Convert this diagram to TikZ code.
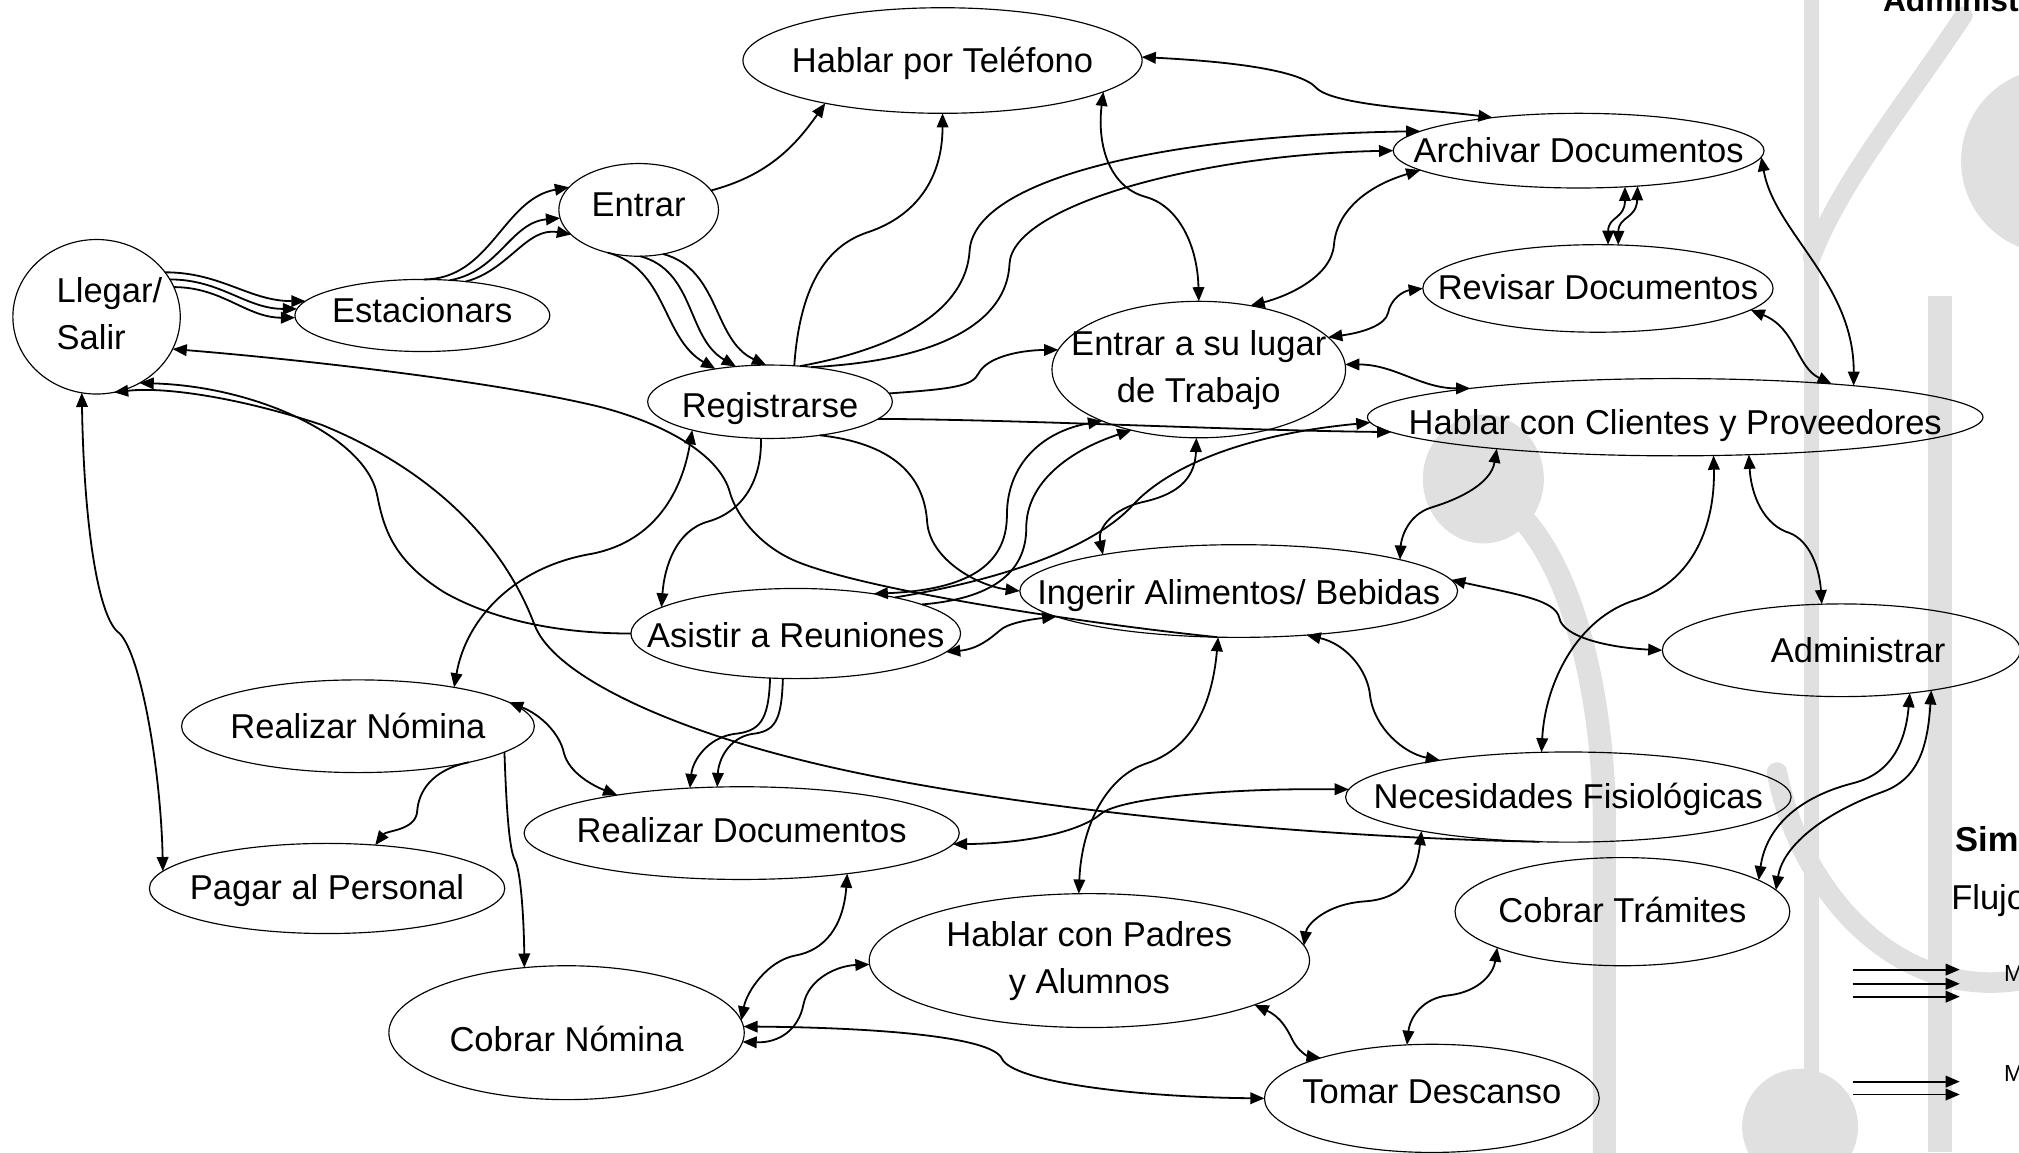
\documentclass[tikz,border=0pt]{standalone}
\usepackage{fontspec}
\setmainfont{Liberation Sans}
\usetikzlibrary{shapes.geometric,arrows.meta}

% text set on its cap height, so that descenders do not move it
\newcommand{\lbl}[2][0pt]{\makebox[0pt]{\raisebox{#1}[\fontcharht\font`A][0pt]{#2}}}
\newcommand{\lbltwo}[3][0pt]{\makebox[0pt]{\raisebox{#1}{\begin{tabular}{@{}c@{}}#2\\#3\end{tabular}}}}

\begin{document}
\begin{tikzpicture}[x=0.5pt, y=-0.5pt,
    >={Triangle[length=5.5pt,width=4.5pt]},
    act/.style={ellipse, draw, line width=0.45pt, inner sep=0pt, outer sep=0pt, font=\fontsize{13.4}{18}\selectfont},
    flow/.style={->, line width=0.7pt},
    both/.style={<->, line width=0.7pt},
    wm/.style={fill=black!12, draw=none},
    wmline/.style={draw=black!12, line cap=round}
]
    \useasboundingbox (0,0) rectangle (1568,895);
    \clip (0,0) rectangle (1568,895);

    % watermark
    \fill[wm] (1401,0) rectangle (1413,895);
    \fill[wm] (1497,230) rectangle (1516,895);
    \fill[wm] (1595,125) circle[radius=72];
    \fill[wm] (1398,875) circle[radius=45];
    \fill[wm] (1152,372) ellipse[x radius=47, y radius=50];
    \draw[wmline, line width=9pt] (1180,400) .. controls (1228,450) and (1246,560) .. (1246,640) -- (1246,900);
    \draw[wmline, line width=7pt] (1525,12) .. controls (1480,80) and (1430,140) .. (1407,200);
    \draw[wmline, line width=8pt] (1380,600) .. controls (1400,700) and (1480,780) .. (1575,760);

    % activities
    \node[act, minimum width=65pt, minimum height=60pt] (llegar) at (75,246) {\makebox[0pt]{\hspace{10pt}\raisebox{0.5pt}{\begin{tabular}{@{}l@{}}Llegar/\\Salir\end{tabular}}}};
    \node[act, minimum width=99pt, minimum height=28pt] (estac) at (328,245) {\lbl[2pt]{Estacionars}};
    \node[act, minimum width=62pt, minimum height=36pt] (entrar) at (496,163) {\lbl[2pt]{Entrar}};
    \node[act, minimum width=95pt, minimum height=28.5pt] (regis) at (598,312) {\lbl[-1.5pt]{Registrarse}};
    \node[act, minimum width=155pt, minimum height=41pt] (telef) at (732,47) {\lbl{Hablar por Teléfono}};
    \node[act, minimum width=144pt, minimum height=29pt] (archiv) at (1226,117) {\lbl{Archivar Documentos}};
    \node[act, minimum width=136pt, minimum height=34pt] (revisar) at (1241,224) {\lbl[0.5pt]{Revisar Documentos}};
    \node[act, minimum width=114pt, minimum height=53pt] (lugar) at (931,287) {\lbltwo[-2.5pt]{Entrar a su lugar}{de Trabajo}};
    \node[act, minimum width=239pt, minimum height=30pt] (clientes) at (1301,324) {\lbl[-2pt]{Hablar con Clientes y Proveedores}};
    \node[act, minimum width=170pt, minimum height=36pt] (ingerir) at (962,459) {\lbl[-0.5pt]{Ingerir Alimentos/ Bebidas}};
    \node[act, minimum width=128pt, minimum height=35pt] (reuniones) at (618,492) {\lbl[-1pt]{Asistir a Reuniones}};
    \node[act, minimum width=139pt, minimum height=36pt] (admin) at (1430,505) {\lbl{\hspace{13pt}Administrar}};
    \node[act, minimum width=173pt, minimum height=35pt] (necesid) at (1218,619) {\lbl{Necesidades Fisiológicas}};
    \node[act, minimum width=137pt, minimum height=36pt] (rnomina) at (278,564) {\lbl{Realizar Nómina}};
    \node[act, minimum width=169pt, minimum height=36pt] (rdocs) at (576,647) {\lbl[1pt]{Realizar Documentos}};
    \node[act, minimum width=138pt, minimum height=35pt] (pagar) at (254,690) {\lbl[0.5pt]{Pagar al Personal}};
    \node[act, minimum width=171pt, minimum height=52pt] (padres) at (846,746) {\lbltwo[-2.5pt]{Hablar con Padres}{y Alumnos}};
    \node[act, minimum width=138pt, minimum height=52pt] (cnomina) at (440,802) {\lbl[-2.5pt]{Cobrar Nómina}};
    \node[act, minimum width=130pt, minimum height=42pt] (tramites) at (1260,708) {\lbl[0.5pt]{Cobrar Trámites}};
    \node[act, minimum width=130pt, minimum height=42pt] (descanso) at (1112,853) {\lbl[2.5pt]{Tomar Descanso}};

    % titles and legend
    \node[anchor=base west, inner sep=0pt, font=\bfseries\fontsize{12.3}{14}\selectfont] (titulo) at (1462,9) {Administ};
    \node[anchor=base west, inner sep=0pt, font=\bfseries\fontsize{13.4}{16}\selectfont] (simb) at (1518,661) {Sim};
    \node[anchor=base west, inner sep=0pt, font=\fontsize{13.4}{16}\selectfont] (flujo) at (1515,706) {Flujo};
    \node[anchor=base west, inner sep=0pt, font=\fontsize{9}{10}\selectfont] (mtres) at (1556,762) {M};
    \node[anchor=base west, inner sep=0pt, font=\fontsize{9}{10}\selectfont] (mdos) at (1556,840) {M};
    \foreach \y [count=\i] in {753,764,774} {
        \coordinate (ta\i) at (1439,\y);
        \coordinate (tb\i) at (1522,\y);
        \draw[flow] (ta\i) -- (tb\i);
    }
    \foreach \y [count=\i] in {840,850} {
        \coordinate (da\i) at (1439,\y);
        \coordinate (db\i) at (1522,\y);
        \draw[flow] (da\i) -- (db\i);
    }

    % arrival
    \draw[flow] (llegar.33) to[out=0,in=180] (estac.173);
    \draw[flow] (llegar.27) to[out=0,in=180] (estac.177);
    \draw[flow] (llegar.21) to[out=0,in=180] (estac.181);
    \draw[flow] (estac.88) to[out=0,in=190] (entrar.162);
    \draw[flow] (estac.52) to[out=10,in=185] (entrar.186);
    \draw[flow] (estac.38) to[out=15,in=170] (entrar.200);
    \draw[flow] (entrar.234) to[out=-15,in=150] (regis.149);
    \draw[flow] (entrar.272) to[out=-15,in=150] (regis.134);
    \draw[flow] (entrar.299) to[out=-15,in=155] (regis.96);
    \draw[flow] (entrar.15) to[out=15,in=235] (telef.200);

    % from Registrarse
    \draw[flow] (regis.56) .. controls (622,210) and (650,188) .. (675,180) .. controls (710,168) and (732,140) .. (telef.270);
    \draw[flow] (regis.50) .. controls (700,270) and (750,240) .. (753,195) .. controls (756,140) and (900,105) .. (archiv.173);
    \draw[flow] (regis.40) .. controls (730,280) and (782,250) .. (784,205) .. controls (786,160) and (930,120) .. (archiv.180);
    \draw[flow] (regis.4) .. controls (740,302) and (755,300) .. (760,290) .. controls (766,278) and (790,272) .. (lugar.172);
    \draw[flow] (regis.351) .. controls (800,326) and (950,334) .. (clientes.183);
    \draw[flow] (regis.326) .. controls (700,345) and (718,375) .. (720,405) .. controls (722,435) and (760,455) .. (ingerir.180);
    \draw[flow] (regis.256) .. controls (592,375) and (575,398) .. (550,405) .. controls (525,412) and (516,440) .. (reuniones.169);
    \draw[both] (regis.200) .. controls (530,380) and (510,420) .. (460,430) .. controls (400,440) and (362,480) .. (rnomina.22);

    % back to Llegar/Salir
    \draw[flow] (ingerir.245) .. controls (850,485) and (680,460) .. (621,437) .. controls (590,425) and (572,400) .. (567,383) .. controls (560,355) and (520,330) .. (466,316) .. controls (380,295) and (220,278) .. (llegar.337);
    \draw[flow] (reuniones.180) .. controls (430,492) and (380,480) .. (345,460) .. controls (305,435) and (298,410) .. (293,385) .. controls (285,340) and (200,300) .. (llegar.303);
    \draw[flow] (necesid.237) .. controls (1000,650) and (760,625) .. (621,590) .. controls (520,565) and (430,525) .. (415,485) .. controls (400,445) and (360,375) .. (250,330) .. controls (190,310) and (130,300) .. (llegar.283);
    \draw[both] (llegar.259) .. controls (65,400) and (75,480) .. (93,492) .. controls (110,510) and (125,600) .. (pagar.174);

    % Asistir a Reuniones
    \draw[both] (reuniones.353) .. controls (760,504) and (770,495) .. (776,490) .. controls (782,484) and (800,481) .. (ingerir.188);
    \draw[both] (reuniones.27) .. controls (750,458) and (782,440) .. (782,400) .. controls (782,360) and (810,335) .. (lugar.208);
    \draw[flow] (reuniones.13) .. controls (770,465) and (797,445) .. (797,410) .. controls (797,375) and (830,350) .. (lugar.222);
    \draw[flow] (reuniones.20) .. controls (780,450) and (850,425) .. (880,392) .. controls (905,365) and (960,338) .. (clientes.181);
    \draw[flow] (reuniones.240) .. controls (597,560) and (590,568) .. (570,570) .. controls (550,573) and (538,590) .. (rdocs.139);
    \draw[flow] (reuniones.254) .. controls (607,560) and (602,568) .. (584,570) .. controls (566,573) and (558,590) .. (rdocs.118);

    % Entrar a su lugar de Trabajo
    \draw[both] (lugar.268) .. controls (928,375) and (910,385) .. (887,390) .. controls (865,395) and (852,410) .. (ingerir.165);
    \draw[both] (lugar.2) to[out=0,in=180] (clientes.172);
    \draw[both] (revisar.180) .. controls (1090,226) and (1080,232) .. (1078,243) .. controls (1076,252) and (1060,258) .. (lugar.14);
    \draw[both] (archiv.187) .. controls (1060,145) and (1038,165) .. (1036,190) .. controls (1034,215) and (1000,230) .. (lugar.51);
    \draw[both] (telef.349) .. controls (852,110) and (860,145) .. (890,153) .. controls (915,160) and (930,190) .. (lugar.90);

    % documents
    \draw[both] (telef.1) .. controls (960,48) and (1010,55) .. (1022,68) .. controls (1035,82) and (1110,85) .. (archiv.159);
    \draw[both] (archiv.322) .. controls (1262,170) and (1249,168) .. (revisar.77);
    \draw[both] (archiv.329) .. controls (1271,170) and (1257,168) .. (revisar.65);
    \draw[both] (archiv.358) .. controls (1378,180) and (1440,220) .. (clientes.10);
    \draw[both] (revisar.352) .. controls (1395,255) and (1395,285) .. (clientes.12);

    % Ingerir and Hablar con Clientes
    \draw[both] (ingerir.11) .. controls (1088,420) and (1092,400) .. (1112,394) .. controls (1135,387) and (1158,375) .. (clientes.190);
    \draw[both] (ingerir.3) .. controls (1180,462) and (1208,466) .. (1211,480) .. controls (1214,495) and (1250,503) .. (admin.180);
    \draw[both] (ingerir.327) .. controls (1045,500) and (1062,520) .. (1064,540) .. controls (1067,565) and (1090,585) .. (necesid.164);
    \draw[both] (ingerir.246) .. controls (942,540) and (930,580) .. (890,593) .. controls (860,603) and (840,640) .. (padres.99);
    \draw[both] (clientes.315) .. controls (1332,400) and (1320,450) .. (1270,466) .. controls (1225,480) and (1200,530) .. (necesid.121);
    \draw[both] (clientes.333) .. controls (1360,385) and (1370,408) .. (1390,414) .. controls (1405,420) and (1413,440) .. (admin.113);
    \draw[both] (admin.328) .. controls (1480,575) and (1470,600) .. (1440,608) .. controls (1400,618) and (1372,640) .. (tramites.13);
    \draw[both] (admin.336) .. controls (1497,580) and (1490,605) .. (1462,615) .. controls (1420,630) and (1385,655) .. (tramites.8);

    % payroll and paperwork
    \draw[flow] (rnomina.342) .. controls (335,598) and (325,615) .. (324,630) .. controls (323,645) and (300,645) .. (pagar.42);
    \draw[flow] (rnomina.350) .. controls (393,620) and (395,660) .. (400,668) .. controls (405,678) and (407,720) .. (cnomina.123);
    \draw[both] (rnomina.9) .. controls (420,555) and (435,570) .. (438,585) .. controls (442,600) and (460,610) .. (rdocs.163);
    \draw[both] (rdocs.357) .. controls (800,655) and (840,645) .. (855,632) .. controls (870,620) and (950,612) .. (necesid.178);
    \draw[both] (rdocs.339) .. controls (655,720) and (640,738) .. (618,742) .. controls (596,746) and (580,770) .. (cnomina.4);

    % bottom row
    \draw[both] (cnomina.357) .. controls (605,810) and (620,800) .. (624,780) .. controls (628,760) and (650,750) .. (padres.181);
    \draw[both] (cnomina.2) .. controls (680,798) and (770,805) .. (778,822) .. controls (786,840) and (880,852) .. (descanso.180);
    \draw[both] (padres.4) .. controls (1015,718) and (1030,702) .. (1060,700) .. controls (1090,698) and (1100,680) .. (necesid.193);
    \draw[both] (padres.345) .. controls (995,790) and (1000,800) .. (1004,808) .. controls (1008,816) and (1015,820) .. (descanso.160);
    \draw[both] (descanso.115) .. controls (1095,790) and (1105,775) .. (1125,773) .. controls (1150,770) and (1160,755) .. (tramites.196);
\end{tikzpicture}
\end{document}
